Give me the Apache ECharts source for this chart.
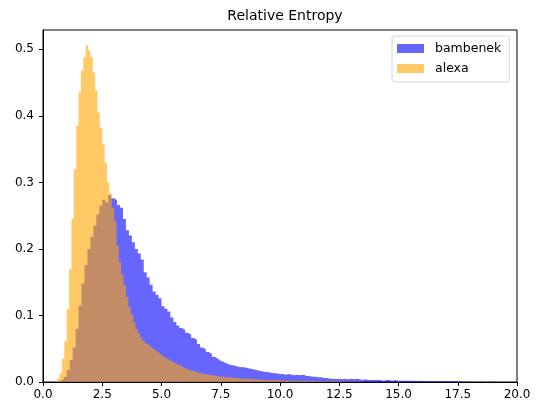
<!DOCTYPE html>
<html lang="en">
<head>
    <meta charset="UTF-8">
    <title>Relative Entropy</title>
    <style>
        html, body { margin: 0; padding: 0; background: #fff; }
        #main { width: 538px; height: 402px; }
    </style>
</head>
<body>
<div id="main"></div>
<script src="https://cdn.jsdelivr.net/npm/echarts@6/dist/echarts.min.js"></script>
<script>
    // histogram bins (density)
    const seriesNames = ['bambenek', 'alexa'];

    // bambenek: bins of 0.125 starting at 0.75
    const bambenekStart = 0.75;
    const bambenekWidth = 0.125;
    const bambenekValues = [
        0.003, 0.008, 0.018, 0.033, 0.052, 0.080, 0.115, 0.148, 0.176, 0.200,
        0.218, 0.235, 0.252, 0.265, 0.274, 0.270, 0.281, 0.276, 0.273, 0.266,
        0.262, 0.245, 0.228, 0.220, 0.210, 0.200, 0.193, 0.184, 0.165, 0.157,
        0.146, 0.136, 0.131, 0.126, 0.114, 0.110, 0.106, 0.097, 0.090, 0.085,
        0.081, 0.078, 0.074, 0.071, 0.066, 0.063, 0.057, 0.052, 0.049, 0.045,
        0.042, 0.038, 0.035, 0.032, 0.030, 0.028, 0.026, 0.025, 0.024, 0.023,
        0.022, 0.022, 0.021, 0.020, 0.019, 0.018, 0.017, 0.016, 0.015, 0.015,
        0.014, 0.013, 0.013, 0.012, 0.012, 0.011, 0.012, 0.011, 0.010, 0.011,
        0.010, 0.011, 0.009, 0.009, 0.008, 0.008, 0.007, 0.007, 0.006, 0.006,
        0.005, 0.005, 0.0045, 0.005, 0.004, 0.005, 0.004, 0.005, 0.004, 0.005,
        0.004, 0.003, 0.004, 0.003, 0.003, 0.003, 0.003, 0.003, 0.002, 0.003,
        0.003, 0.002, 0.003, 0.002, 0.002, 0.002, 0.002, 0.002, 0.002, 0.0015,
        0.002, 0.0015, 0.0015, 0.001, 0.0015, 0.001, 0.001, 0.001, 0.0015, 0.001,
        0.001, 0.001, 0.001, 0.0008, 0.001, 0, 0.0008, 0, 0.0008, 0,
        0, 0.0008, 0, 0, 0.0008, 0.0008
    ];

    // alexa: bins of 0.1 starting at 0.6
    const alexaStart = 0.6;
    const alexaWidth = 0.1;
    const alexaValues = [
        0.005, 0.014, 0.035, 0.062, 0.110, 0.170, 0.245, 0.320, 0.385, 0.435,
        0.468, 0.488, 0.506, 0.498, 0.488, 0.465, 0.438, 0.405, 0.382, 0.357,
        0.330, 0.300, 0.283, 0.262, 0.242, 0.205, 0.180, 0.162, 0.145, 0.128,
        0.113, 0.102, 0.090, 0.080, 0.073, 0.067, 0.062, 0.058, 0.055, 0.052,
        0.049, 0.047, 0.044, 0.041, 0.038, 0.036, 0.034, 0.032, 0.030, 0.028,
        0.026, 0.025, 0.023, 0.021, 0.019, 0.018, 0.017, 0.016, 0.015, 0.014,
        0.013, 0.012, 0.012, 0.011, 0.010, 0.010, 0.009, 0.009, 0.008, 0.008,
        0.0075, 0.007, 0.007, 0.0065, 0.006, 0.006, 0.0055, 0.005, 0.005, 0.005,
        0.0045, 0.0045, 0.004, 0.004, 0.004, 0.0035, 0.0035, 0.003, 0.003, 0.003,
        0.003, 0.0025, 0.0025, 0.0025, 0.002, 0.002, 0.002, 0.002, 0.0018, 0.0018,
        0.0018, 0.0016, 0.0016, 0.0015, 0.0015, 0.0015, 0.0014, 0.0014, 0.0013, 0.0013,
        0.0012, 0.0012, 0.0012, 0.0011, 0.0011, 0.001, 0.001, 0.001, 0.001, 0.0009,
        0.0009, 0.0009, 0.0008, 0.0008, 0.0008, 0.0007, 0.0007, 0.0006, 0.0006
    ];

    const xTicks = [0, 2.5, 5, 7.5, 10, 12.5, 15, 17.5, 20];
    const yTicks = [0, 0.1, 0.2, 0.3, 0.4, 0.5];

    // turn bins into step points: [left edge, value], plus the last right edge
    function toSteps(start, width, values) {
        const pts = values.map(function (v, i) { return [start + i * width, v]; });
        pts.push([start + values.length * width, values[values.length - 1]]);
        return pts;
    }

    const blue = 'rgb(102,102,255)';
    const orange = 'rgb(255,201,102)';
    const font = 'DejaVu Sans';

    const myChart = echarts.init(document.getElementById('main'));

    const option = {
        animation: false,
        title: {
            text: 'Relative Entropy',
            left: 280,
            textAlign: 'center',
            top: 4,
            textStyle: { fontFamily: font, fontSize: 14, fontWeight: 'normal', color: '#000' }
        },
        legend: {
            orient: 'vertical',
            left: 392,
            top: 36,
            padding: [6, 8, 7, 5],
            itemGap: 7,
            itemWidth: 27,
            itemHeight: 9,
            icon: 'rect',
            borderColor: '#d6d6d6',
            borderWidth: 1,
            borderRadius: 3,
            backgroundColor: 'rgba(255,255,255,0.8)',
            textStyle: { fontFamily: font, fontSize: 12.5, color: '#000', padding: [0, 0, 0, 6] },
            data: [
                { name: seriesNames[0], itemStyle: { color: blue, borderWidth: 0 } },
                { name: seriesNames[1], itemStyle: { color: orange, borderWidth: 0 } }
            ]
        },
        grid: {
            left: 43, right: 21, top: 30, bottom: 20,
            show: true, borderColor: '#000', borderWidth: 1, backgroundColor: 'transparent'
        },
        xAxis: {
            type: 'value',
            min: 0, max: 20, interval: 2.5,
            axisLine: { show: true, lineStyle: { color: '#000', width: 1 } },
            axisTick: { show: true, length: 4, lineStyle: { color: '#000' } },
            axisLabel: {
                margin: 7, color: '#000', fontFamily: font, fontSize: 12,
                formatter: function (v) { return xTicks.indexOf(v) >= 0 ? v.toFixed(1) : ''; }
            },
            splitLine: { show: false }
        },
        yAxis: {
            type: 'value',
            min: 0, max: 0.529, interval: 0.1,
            axisLine: { show: true, lineStyle: { color: '#000', width: 1 } },
            axisTick: { show: true, length: 4, lineStyle: { color: '#000' } },
            axisLabel: {
                margin: 9, color: '#000', fontFamily: font, fontSize: 12, showMaxLabel: false,
                formatter: function (v) {
                    const r = Math.round(v * 10) / 10;
                    return yTicks.indexOf(r) >= 0 && Math.abs(v - r) < 1e-6 ? r.toFixed(1) : '';
                }
            },
            splitLine: { show: false }
        },
        series: [
            {
                name: seriesNames[0],
                type: 'line',
                step: 'end',
                showSymbol: false,
                symbol: 'none',
                color: blue,
                lineStyle: { width: 0, opacity: 0 },
                areaStyle: { color: '#0000ff', opacity: 0.6 },
                data: toSteps(bambenekStart, bambenekWidth, bambenekValues)
            },
            {
                name: seriesNames[1],
                type: 'line',
                step: 'end',
                showSymbol: false,
                symbol: 'none',
                color: orange,
                lineStyle: { width: 0, opacity: 0 },
                areaStyle: { color: '#ffa500', opacity: 0.6 },
                data: toSteps(alexaStart, alexaWidth, alexaValues)
            }
        ]
    };
    myChart.setOption(option);
</script>
</body>
</html>
